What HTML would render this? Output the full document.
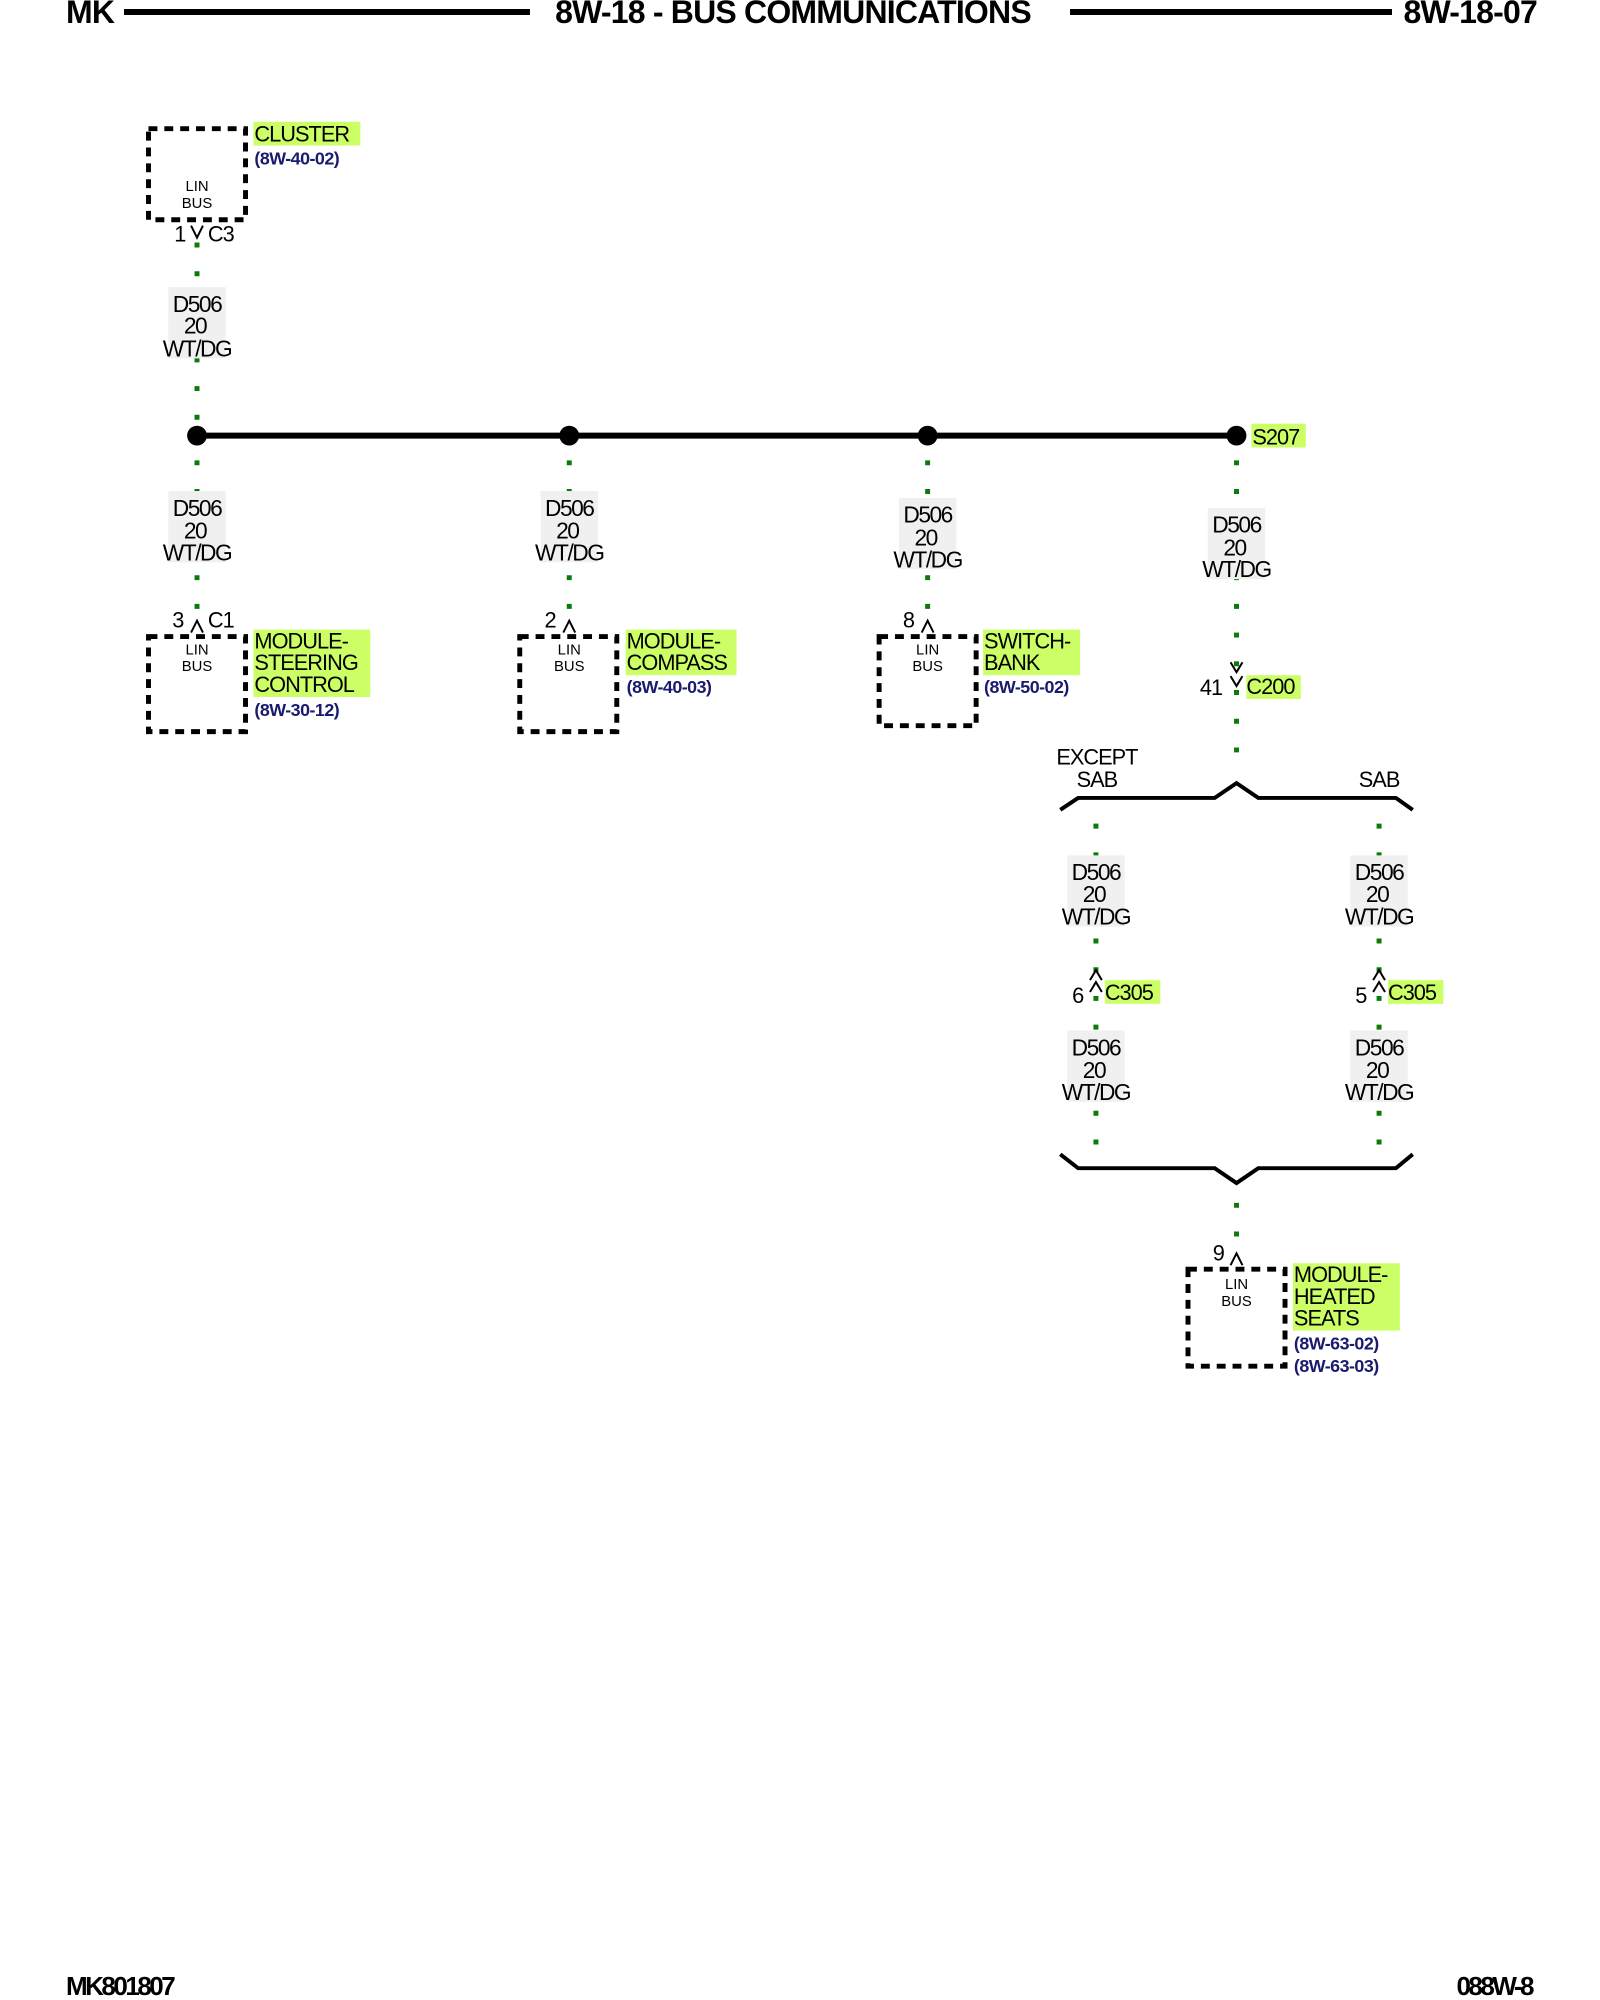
<!DOCTYPE html>
<html><head><meta charset="utf-8"><style>
html,body{margin:0;padding:0;background:#fff;}
svg{display:block;}
text{font-family:"Liberation Sans",sans-serif;}
.w{font-size:23px;letter-spacing:-1.5px;text-anchor:middle;fill:#000;}
.n{font-size:22px;letter-spacing:-1px;fill:#000;}
.r{font-size:18px;letter-spacing:-0.5px;fill:#1a1a6e;font-weight:bold;}
.lb{font-size:15px;text-anchor:middle;fill:#000;}
.h{font-size:32px;font-weight:bold;letter-spacing:-0.8px;fill:#000;}
.wire{stroke:#0a7a0a;stroke-width:5;stroke-dasharray:5 24;fill:none;}
.box{stroke:#000;stroke-width:5;stroke-dasharray:9 7;fill:none;}
.hl{fill:#ccff66;}
.gb{fill:#f0f0f0;}
</style></head><body>
<svg width="1600" height="2000" viewBox="0 0 1600 2000">
<!-- header -->
<text class="h" x="66" y="23">MK</text>
<line x1="124" y1="12" x2="530" y2="12" stroke="#000" stroke-width="6"/>
<text class="h" x="793" y="23" text-anchor="middle">8W-18 - BUS COMMUNICATIONS</text>
<line x1="1070" y1="12" x2="1392" y2="12" stroke="#000" stroke-width="6"/>
<text class="h" x="1537" y="23" text-anchor="end">8W-18-07</text>
<!-- footer -->
<text x="66" y="1995" style="font-size:26px;font-weight:bold;letter-spacing:-2.5px">MK801807</text>
<text x="1532" y="1995" text-anchor="end" style="font-size:26px;font-weight:bold;letter-spacing:-2.5px">088W-8</text>

<g transform="scale(0.99)">
<!-- bus -->
<line x1="199" y1="440" x2="1249" y2="440" stroke="#000" stroke-width="6"/>
<circle cx="199" cy="440" r="10"/><circle cx="575" cy="440" r="10"/><circle cx="937" cy="440" r="10"/><circle cx="1249" cy="440" r="10"/>
<rect class="hl" x="1264" y="428" width="55" height="24"/><text class="n" x="1265" y="449">S207</text>

<!-- wires -->
<line class="wire" x1="199" y1="245" x2="199" y2="435"/>
<line class="wire" x1="199" y1="465" x2="199" y2="625"/>
<line class="wire" x1="575" y1="465" x2="575" y2="625"/>
<line class="wire" x1="937" y1="465" x2="937" y2="625"/>
<line class="wire" x1="1249" y1="465" x2="1249" y2="780"/>
<line class="wire" x1="1107" y1="832" x2="1107" y2="1165"/>
<line class="wire" x1="1393" y1="832" x2="1393" y2="1165"/>
<line class="wire" x1="1249" y1="1215" x2="1249" y2="1262"/>

<!-- wire labels -->
<g>
<rect class="gb" x="170" y="290" width="58" height="72"/>
<text class="w" x="199" y="315">D506</text><text class="w" x="197" y="337">20</text><text class="w" x="199" y="360">WT/DG</text>
<rect class="gb" x="170" y="496" width="58" height="72"/>
<text class="w" x="199" y="521">D506</text><text class="w" x="197" y="544">20</text><text class="w" x="199" y="566">WT/DG</text>
<rect class="gb" x="546" y="496" width="58" height="72"/>
<text class="w" x="575" y="521">D506</text><text class="w" x="573" y="544">20</text><text class="w" x="575" y="566">WT/DG</text>
<rect class="gb" x="908" y="503" width="58" height="72"/>
<text class="w" x="937" y="528">D506</text><text class="w" x="935" y="551">20</text><text class="w" x="937" y="573">WT/DG</text>
<rect class="gb" x="1220" y="513" width="58" height="72"/>
<text class="w" x="1249" y="538">D506</text><text class="w" x="1247" y="561">20</text><text class="w" x="1249" y="583">WT/DG</text>
<rect class="gb" x="1078" y="864" width="58" height="72"/>
<text class="w" x="1107" y="889">D506</text><text class="w" x="1105" y="911">20</text><text class="w" x="1107" y="934">WT/DG</text>
<rect class="gb" x="1364" y="864" width="58" height="72"/>
<text class="w" x="1393" y="889">D506</text><text class="w" x="1391" y="911">20</text><text class="w" x="1393" y="934">WT/DG</text>
<rect class="gb" x="1078" y="1041" width="58" height="72"/>
<text class="w" x="1107" y="1066">D506</text><text class="w" x="1105" y="1089">20</text><text class="w" x="1107" y="1111">WT/DG</text>
<rect class="gb" x="1364" y="1041" width="58" height="72"/>
<text class="w" x="1393" y="1066">D506</text><text class="w" x="1391" y="1089">20</text><text class="w" x="1393" y="1111">WT/DG</text>
</g>

<!-- cluster -->
<rect class="box" x="150" y="130" width="98" height="92"/>
<text class="lb" x="199" y="193">LIN</text><text class="lb" x="199" y="210">BUS</text>
<rect class="hl" x="256" y="123" width="108" height="24"/><text class="n" x="257" y="143">CLUSTER</text>
<text class="r" x="257" y="166">(8W-40-02)</text>
<polyline points="193,228 199,240 205,228" fill="none" stroke="#000" stroke-width="2"/>
<text class="n" x="176" y="244">1</text><text class="n" x="210" y="244">C3</text>

<!-- steering -->
<rect class="box" x="150" y="643" width="98" height="96"/>
<text class="lb" x="199" y="661">LIN</text><text class="lb" x="199" y="678">BUS</text>
<polyline points="193,639 199,627 205,639" fill="none" stroke="#000" stroke-width="2"/>
<text class="n" x="174" y="634">3</text><text class="n" x="210" y="634">C1</text>
<rect class="hl" x="256" y="636" width="118" height="68"/>
<text class="n" x="257" y="655">MODULE-</text><text class="n" x="257" y="677">STEERING</text><text class="n" x="257" y="699">CONTROL</text>
<text class="r" x="257" y="723">(8W-30-12)</text>

<!-- compass -->
<rect class="box" x="525" y="643" width="98" height="96"/>
<text class="lb" x="575" y="661">LIN</text><text class="lb" x="575" y="678">BUS</text>
<polyline points="569,639 575,627 581,639" fill="none" stroke="#000" stroke-width="2"/>
<text class="n" x="550" y="634">2</text>
<rect class="hl" x="632" y="636" width="112" height="46"/>
<text class="n" x="633" y="655">MODULE-</text><text class="n" x="633" y="677">COMPASS</text>
<text class="r" x="633" y="700">(8W-40-03)</text>

<!-- switch bank -->
<rect class="box" x="888" y="643" width="98" height="90"/>
<text class="lb" x="937" y="661">LIN</text><text class="lb" x="937" y="678">BUS</text>
<polyline points="931,639 937,627 943,639" fill="none" stroke="#000" stroke-width="2"/>
<text class="n" x="912" y="634">8</text>
<rect class="hl" x="993" y="636" width="98" height="46"/>
<text class="n" x="994" y="655">SWITCH-</text><text class="n" x="994" y="677">BANK</text>
<text class="r" x="994" y="700">(8W-50-02)</text>

<!-- C200 -->
<polyline points="1243,669 1249,679 1255,669" fill="none" stroke="#000" stroke-width="2"/>
<polyline points="1243,683 1249,693 1255,683" fill="none" stroke="#000" stroke-width="2"/>
<text class="n" x="1212" y="702">41</text>
<rect class="hl" x="1259" y="682" width="55" height="24"/><text class="n" x="1259" y="701">C200</text>

<!-- top bracket -->
<polyline points="1071,818 1089,806 1227,806 1249,791 1271,806 1410,806 1427,818" fill="none" stroke="#000" stroke-width="4"/>
<text class="n" x="1108" y="772" text-anchor="middle">EXCEPT</text>
<text class="n" x="1108" y="795" text-anchor="middle">SAB</text>
<text class="n" x="1393" y="795" text-anchor="middle">SAB</text>

<!-- C305 -->
<polyline points="1101,990 1107,980 1113,990" fill="none" stroke="#000" stroke-width="2"/>
<polyline points="1101,1002 1107,992 1113,1002" fill="none" stroke="#000" stroke-width="2"/>
<text class="n" x="1083" y="1013">6</text>
<rect class="hl" x="1116" y="990" width="56" height="24"/><text class="n" x="1116" y="1010">C305</text>
<polyline points="1387,990 1393,980 1399,990" fill="none" stroke="#000" stroke-width="2"/>
<polyline points="1387,1002 1393,992 1399,1002" fill="none" stroke="#000" stroke-width="2"/>
<text class="n" x="1369" y="1013">5</text>
<rect class="hl" x="1402" y="990" width="56" height="24"/><text class="n" x="1402" y="1010">C305</text>

<!-- bottom bracket -->
<polyline points="1071,1166 1089,1180 1227,1180 1249,1195 1271,1180 1410,1180 1427,1166" fill="none" stroke="#000" stroke-width="4"/>

<!-- heated seats -->
<rect class="box" x="1200" y="1282" width="98" height="98"/>
<text class="lb" x="1249" y="1302">LIN</text><text class="lb" x="1249" y="1319">BUS</text>
<polyline points="1243,1278 1249,1266 1255,1278" fill="none" stroke="#000" stroke-width="2"/>
<text class="n" x="1225" y="1273">9</text>
<rect class="hl" x="1306" y="1276" width="108" height="68"/>
<text class="n" x="1307" y="1295">MODULE-</text><text class="n" x="1307" y="1317">HEATED</text><text class="n" x="1307" y="1339">SEATS</text>
<text class="r" x="1307" y="1363">(8W-63-02)</text>
<text class="r" x="1307" y="1386">(8W-63-03)</text>
</g>
</svg>
</body></html>
